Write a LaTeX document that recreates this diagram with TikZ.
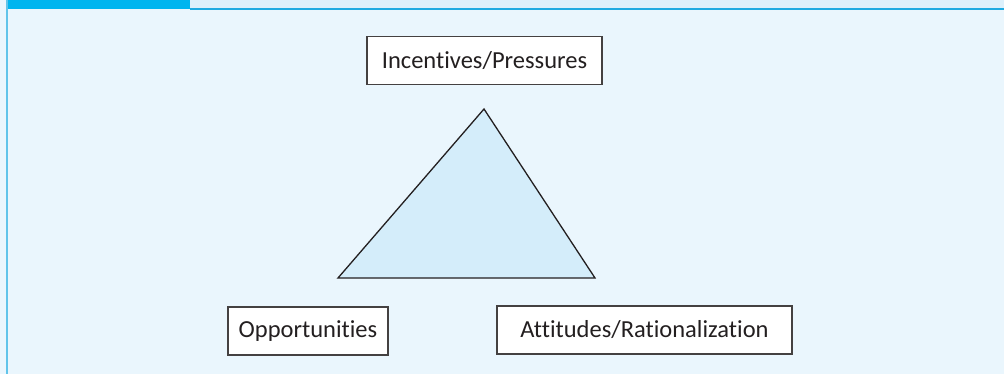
\documentclass[tikz,border=0pt]{standalone}
\usepackage{fontspec}
\setmainfont{Carlito}[Ligatures={NoCommon}]
\usepackage{tikz}
\usetikzlibrary{calc}
\definecolor{tabblue}{RGB}{0,181,239}
\definecolor{lineblue}{RGB}{30,170,225}
\definecolor{panel}{RGB}{234,246,253}
\definecolor{strip}{RGB}{221,240,251}
\definecolor{trifill}{RGB}{212,237,250}
\definecolor{ink}{RGB}{35,31,32}
\tikzstyle{factor}=[rectangle, draw=ink!85, fill=white, line width=1.3pt,% plain white box
minimum height=48pt, text=ink, font=\fontsize{24.5}{28}\selectfont]
\tikzstyle{tri}=[draw=ink, fill=trifill, line width=1.3pt, line join=miter]

\begin{document}
\begin{tikzpicture}[x=1pt,y=-1pt]
\useasboundingbox (0,0) rectangle (1004,374);
\fill[panel] (0,0) rectangle (1004,374);
\fill[strip] (190,0) rectangle (1004,8);
\fill[tabblue] (7,0) rectangle (190,9);
\draw[lineblue, line width=1.5pt] (190,9) -- (1004,9);
\draw[lineblue!70, line width=1.5pt] (7,0) -- (7,374);
\coordinate (top) at (484,109);
\coordinate (left) at (338,278);
\coordinate (right) at (595,278);
\draw[tri] (top) -- (left) -- (right) -- cycle;
\node[factor, minimum width=235pt] (press) at (484.5,60.5) {Incentives/Pressures};
\node[factor, minimum width=160pt] (opp) at (308,331) {Opportunities};
\node[factor, minimum width=295pt] (att) at (644.5,330) {Attitudes/Rationalization};
\end{tikzpicture}
\end{document}
